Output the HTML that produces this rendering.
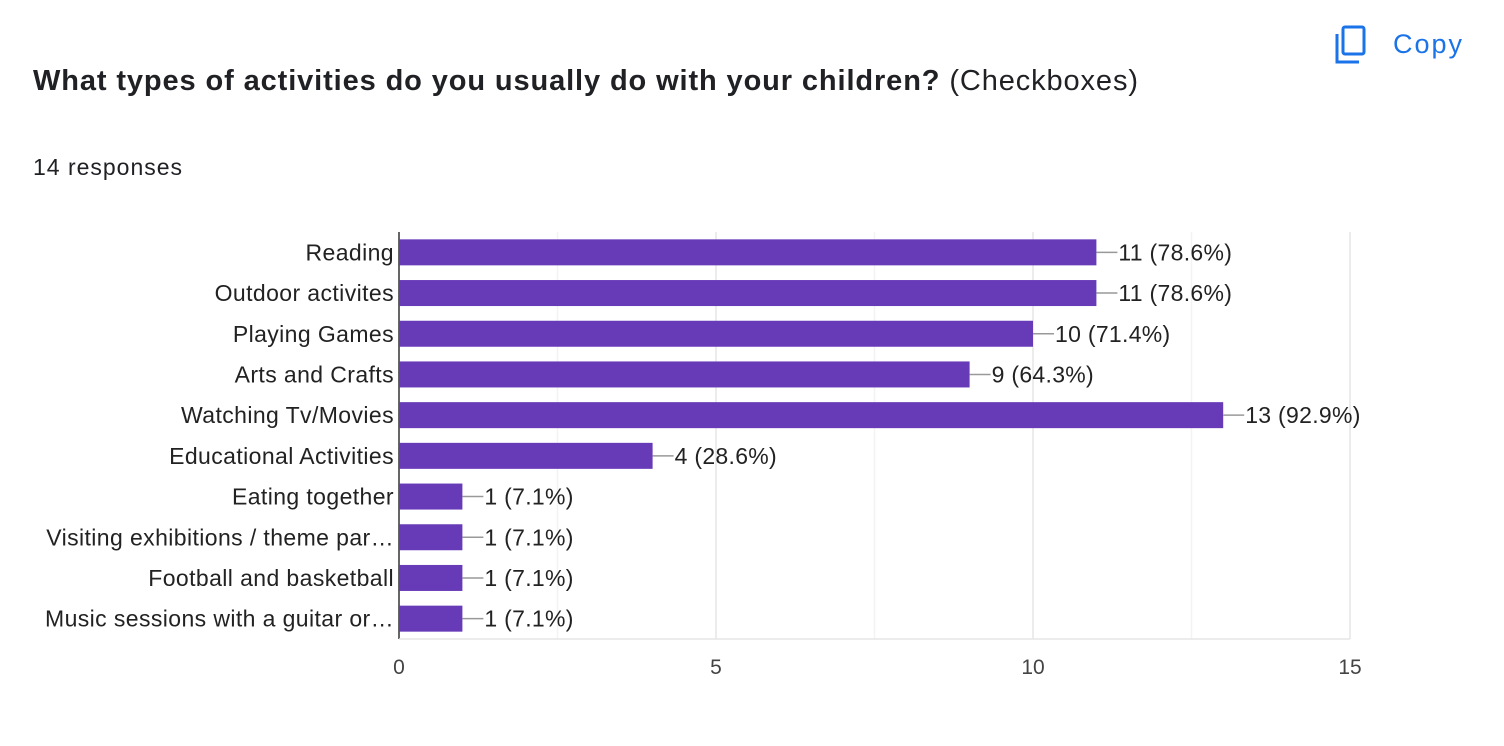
<!DOCTYPE html>
<html><head><meta charset="utf-8"><style>
body{margin:0;background:#fff;width:1504px;height:746px;overflow:hidden;font-family:"Liberation Sans",Arial,sans-serif;}
</style></head><body>
<svg width="1504" height="746" style="position:absolute;left:0;top:0">
<text x="33" y="90" font-size="29" fill="#202124" textLength="1105" lengthAdjust="spacing"><tspan font-weight="bold">What types of activities do you usually do with your children?</tspan> (Checkboxes)</text>
<text x="33" y="175" font-size="23" fill="#202124" textLength="149" lengthAdjust="spacing">14 responses</text>
<g>
<rect x="1343" y="27" width="21" height="27" fill="none" stroke="#1a73e8" stroke-width="3" rx="2"/>
<path d="M1337 34 V62 H1359" fill="none" stroke="#1a73e8" stroke-width="3"/>
<text x="1393" y="53" font-size="27" fill="#1a73e8" textLength="69" lengthAdjust="spacing">Copy</text>
</g>
<g id="grid"></g>
<g id="bars"></g>
</svg>
<script>
const categories=["Reading","Outdoor activites","Playing Games","Arts and Crafts","Watching Tv/Movies","Educational Activities","Eating together","Visiting exhibitions / theme par…","Football and basketball","Music sessions with a guitar or…"];
const values=[11,11,10,9,13,4,1,1,1,1];
const valueLabels=["11 (78.6%)","11 (78.6%)","10 (71.4%)","9 (64.3%)","13 (92.9%)","4 (28.6%)","1 (7.1%)","1 (7.1%)","1 (7.1%)","1 (7.1%)"];
const ticks=[0,5,10,15];
const minorTicks=[2.5,7.5,12.5];
const NS="http://www.w3.org/2000/svg";
const x0=399,x1=1350,top0=232,bot=639,xmax=15;
const xs=v=>x0+(x1-x0)*v/xmax;
const band=(bot-top0)/categories.length;
const yc=i=>top0+band*(i+0.5);
function mk(t,a,p){const e=document.createElementNS(NS,t);for(const k in a)e.setAttribute(k,a[k]);p.appendChild(e);return e;}
const grid=document.getElementById('grid'),bars=document.getElementById('bars');
minorTicks.forEach(t=>{const l=mk('line',{x1:xs(t),x2:xs(t),y1:top0,y2:bot,stroke:'#f3f3f3','stroke-width':1.5},grid);

});
ticks.forEach(t=>{const l=mk('line',{x1:xs(t),x2:xs(t),y1:top0,y2:bot,stroke:t===0?'#333':'#e6e6e6','stroke-width':1.5},grid);


const tx=mk('text',{x:xs(t),y:674,'text-anchor':'middle','font-size':21,fill:'#444'},grid);tx.textContent=t;

});
mk('line',{x1:x0,x2:x1,y1:bot,y2:bot,stroke:'#e6e6e6','stroke-width':1.5},grid);
categories.forEach((c,i)=>{const y=yc(i),w=xs(values[i])-x0,bh=26;
const r=mk('rect',{x:x0,y:y-bh/2,width:w,height:bh,fill:'#673ab7'},bars);


const ln=mk('line',{x1:xs(values[i]),x2:xs(values[i])+21,y1:y,y2:y,stroke:'#999','stroke-width':1.5},bars);


const vl=mk('text',{x:xs(values[i])+22,y:y+8,'font-size':23,'letter-spacing':0.3,fill:'#222'},bars);vl.textContent=valueLabels[i];


const cl=mk('text',{x:394,y:y+8,'font-size':23,'letter-spacing':0.4,fill:'#222','text-anchor':'end'},bars);cl.textContent=c;

});
</script>
</body></html>
